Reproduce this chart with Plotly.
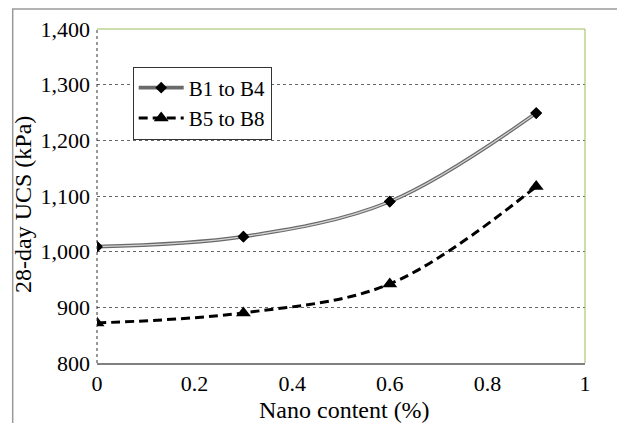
import plotly.graph_objects as go

# ---- data ----
nano_content = [0, 0.3, 0.6, 0.9]
ucs_b1_b4 = [1009, 1027, 1090, 1249]
ucs_b5_b8 = [872, 890, 942, 1117]
series_names = ["B1 to B4", "B5 to B8"]
x_tick_vals = [0, 0.2, 0.4, 0.6, 0.8, 1]
x_tick_text = ["0", "0.2", "0.4", "0.6", "0.8", "1"]
y_tick_vals = [800, 900, 1000, 1100, 1200, 1300, 1400]
y_tick_text = ["800", "900", "1,000", "1,100", "1,200", "1,300", "1,400"]

FONT = "Liberation Serif"
W, H = 617, 423
ML, MR, MT, MB = 97, 32, 29, 60
PW, PH = W - ML - MR, H - MT - MB


def px_x(p):
    return (p - ML) / PW


def px_y(p):
    return (H - MB - p) / PH


fig = go.Figure()

# double-line series (outer gray + light core)
fig.add_trace(go.Scatter(
    x=nano_content, y=ucs_b1_b4, name=series_names[0], mode="lines+markers",
    line=dict(color="#6a6a6a", width=3.6, shape="spline", smoothing=1),
    marker=dict(symbol="diamond", size=9, color="black"),
))
fig.add_trace(go.Scatter(
    x=nano_content, y=ucs_b1_b4, mode="lines", showlegend=False, hoverinfo="skip",
    line=dict(color="#d4d4d4", width=1.2, shape="spline", smoothing=1),
))
fig.add_trace(go.Scatter(
    x=nano_content, y=ucs_b1_b4, mode="markers", showlegend=False, hoverinfo="skip",
    marker=dict(symbol="diamond", size=9, color="black"),
))
fig.add_trace(go.Scatter(
    x=nano_content, y=ucs_b5_b8, name=series_names[1], mode="lines+markers",
    line=dict(color="black", width=3, dash="9px,5px", shape="spline", smoothing=1),
    marker=dict(symbol="triangle-up", size=13, color="black"),
))

shapes = [
    # outer frame (left and top)
    dict(type="line", xref="paper", yref="paper", x0=px_x(12.7), x1=px_x(12.7),
         y0=px_y(9), y1=px_y(430), line=dict(color="#9a9a9a", width=1.5)),
    dict(type="line", xref="paper", yref="paper", x0=px_x(12), x1=px_x(630),
         y0=px_y(9), y1=px_y(9), line=dict(color="#9a9a9a", width=1.5)),
    # plot area top & right border (light green)
    dict(type="line", xref="paper", yref="paper", x0=0, x1=1, y0=1, y1=1,
         line=dict(color="#9bbb59", width=1)),
    dict(type="line", xref="paper", yref="paper", x0=1, x1=1, y0=0, y1=1,
         line=dict(color="#9bbb59", width=1)),
    # left axis dotted
    dict(type="line", xref="paper", yref="paper", x0=0, x1=0, y0=0, y1=1,
         line=dict(color="#333333", width=1, dash="dot")),
]

fig.update_layout(
    width=W, height=H,
    margin=dict(l=ML, r=MR, t=MT, b=MB),
    paper_bgcolor="white", plot_bgcolor="white",
    font=dict(family=FONT, size=22, color="black"),
    showlegend=True,
    legend=dict(
        x=px_x(132.7), y=px_y(66.5), xanchor="left", yanchor="top",
        bgcolor="white", bordercolor="#333333", borderwidth=1,
        font=dict(family=FONT, size=21, color="black"),
        itemwidth=45, tracegroupgap=0,
    ),
    xaxis=dict(
        range=[0, 1], tickvals=x_tick_vals, ticktext=x_tick_text,
        showgrid=False, zeroline=False, showline=True,
        linecolor="#808080", linewidth=2, ticks="",
        tickfont=dict(family=FONT, size=22),
    ),
    yaxis=dict(
        range=[800, 1400], tickvals=y_tick_vals, ticktext=y_tick_text,
        showgrid=True, gridcolor="#666666", griddash="dot", gridwidth=1,
        zeroline=False, showline=False, ticks="", ticklabelstandoff=6,
        tickfont=dict(family=FONT, size=22),
    ),
    shapes=shapes,
    annotations=[
        dict(text="28-day UCS (kPa)", xref="paper", yref="paper",
             x=px_x(23), y=px_y(205), textangle=-90, showarrow=False,
             xanchor="center", yanchor="middle",
             font=dict(family=FONT, size=24)),
        dict(text="Nano content (%)", xref="paper", yref="paper",
             x=px_x(344.5), y=px_y(410), showarrow=False,
             xanchor="center", yanchor="middle",
             font=dict(family=FONT, size=24)),
    ],
)

fig.write_html("out.html")
